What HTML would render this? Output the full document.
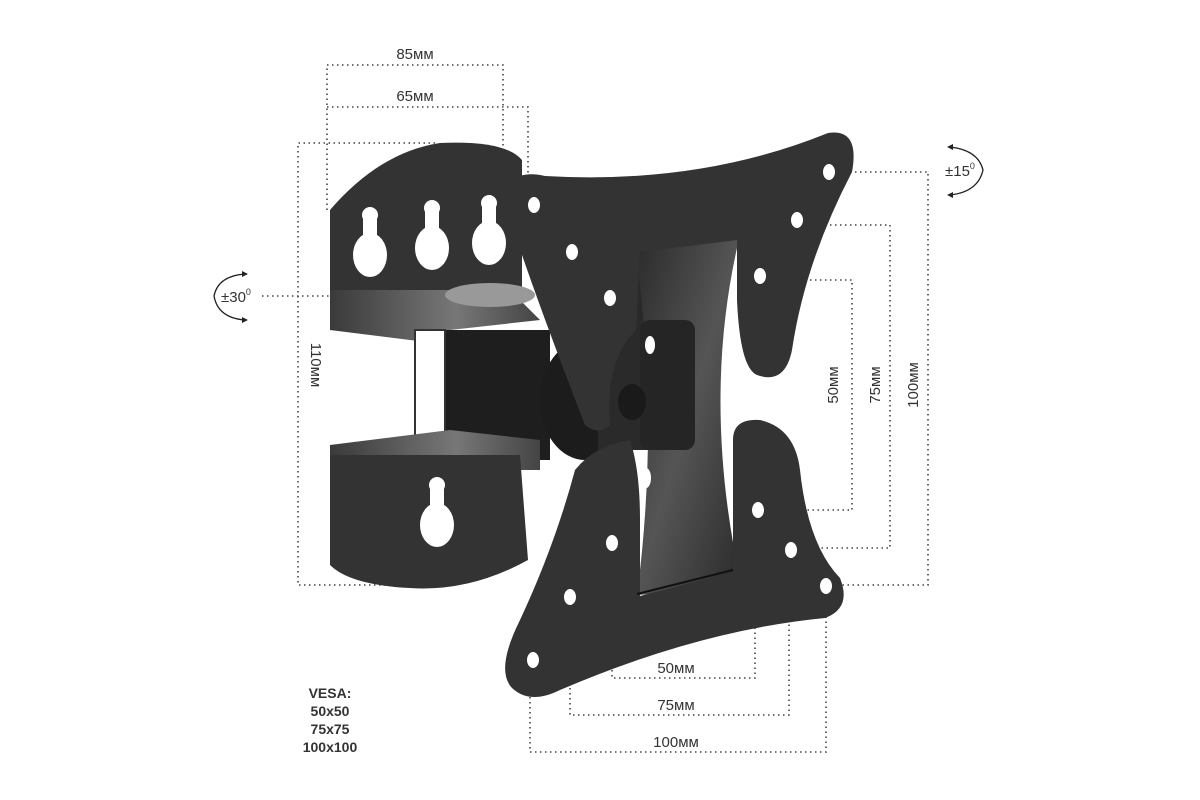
<!DOCTYPE html>
<html><head><meta charset="utf-8"><style>
html,body{margin:0;padding:0;background:#fff;}
svg{display:block;}
text{font-family:"Liberation Sans","DejaVu Sans",sans-serif;fill:#333;}
</style></head><body>
<svg width="1200" height="800" viewBox="0 0 1200 800" xmlns="http://www.w3.org/2000/svg">
<defs>
<linearGradient id="mid" x1="0" y1="0" x2="1" y2="1">
<stop offset="0" stop-color="#2a2a2a"/><stop offset="0.5" stop-color="#555"/><stop offset="1" stop-color="#2a2a2a"/></linearGradient>
<linearGradient id="flange" x1="0" y1="0" x2="1" y2="0">
<stop offset="0" stop-color="#3a3a3a"/><stop offset="0.6" stop-color="#777"/><stop offset="1" stop-color="#444"/></linearGradient>
</defs>
<g fill="none" stroke="#444" stroke-width="1.6" stroke-dasharray="1.5 3.5">
<path d="M327,210 V65 H503 V155"/>
<path d="M327,107 H528 V175"/>
<path d="M435,143 H298 V585 H420"/>
<path d="M262,296 H450"/>
<path d="M835,172 H928 V585 H830"/>
<path d="M800,225 H890 V548 H795"/>
<path d="M765,280 H852 V510 H760"/>
<path d="M612,545 V678 H755 V510"/>
<path d="M570,598 V715 H789 V550"/>
<path d="M530,662 V752 H826 V586"/>
</g>
<path d="M330,210 Q380,152 440,143 Q505,140 522,160 L522,300 L330,300 Z" fill="#333"/>
<path d="M330,290 L450,290 L520,300 L540,320 L450,330 L450,345 L330,330 Z" fill="url(#flange)"/>
<rect x="440" y="330" width="110" height="130" fill="#1e1e1e"/>
<rect x="415" y="330" width="30" height="130" fill="#fff" stroke="#333" stroke-width="2"/>
<path d="M330,445 L450,430 L540,440 L540,470 L450,470 L330,470 Z" fill="url(#flange)"/>
<path d="M330,455 L520,455 L528,560 Q470,592 410,588 Q350,585 330,565 Z" fill="#333"/>
<ellipse cx="490" cy="295" rx="45" ry="12" fill="#999"/>
<g fill="#fff">
<circle cx="370" cy="215" r="8"/><rect x="363" y="215" width="14" height="40"/><ellipse cx="370" cy="255" rx="17" ry="22"/>
<circle cx="432" cy="208" r="8"/><rect x="425" y="208" width="14" height="40"/><ellipse cx="432" cy="248" rx="17" ry="22"/>
<circle cx="489" cy="203" r="8"/><rect x="482" y="203" width="14" height="40"/><ellipse cx="489" cy="243" rx="17" ry="22"/>
<circle cx="437" cy="485" r="8"/><rect x="430" y="485" width="14" height="40"/><ellipse cx="437" cy="525" rx="17" ry="22"/>
</g>
<ellipse cx="585" cy="400" rx="45" ry="60" fill="#1c1c1c"/>
<rect x="598" y="245" width="65" height="205" fill="#2a2a2a"/>
<path d="M635,245 L740,235 Q700,400 742,588 L637,595 Q660,420 635,245 Z" fill="url(#mid)"/>
<rect x="640" y="320" width="55" height="130" rx="10" fill="#252525"/>
<ellipse cx="632" cy="402" rx="14" ry="18" fill="#1a1a1a"/>
<path d="M505,185 Q520,170 545,176 Q700,185 828,133 Q860,128 852,172 Q805,262 792,350 Q785,385 757,375 Q740,368 737,300 L737,240 L640,252 L636,330 Q605,360 610,425 Q598,436 585,425 Q548,330 522,255 Q500,210 505,185 Z" fill="#333"/>
<path d="M575,470 Q595,445 630,440 Q640,470 640,520 L640,596 L733,572 L733,440 Q733,418 760,420 Q795,428 800,470 Q808,545 840,578 Q852,608 825,618 Q700,630 560,690 Q530,705 512,688 Q495,670 520,620 Q555,545 575,470 Z" fill="#333"/>
<path d="M637,594 L733,570" stroke="#111" stroke-width="2"/>
<g fill="#fff">
<ellipse cx="534" cy="205" rx="6" ry="8"/>
<ellipse cx="572" cy="252" rx="6" ry="8"/>
<ellipse cx="610" cy="298" rx="6" ry="8"/>
<ellipse cx="829" cy="172" rx="6" ry="8"/>
<ellipse cx="797" cy="220" rx="6" ry="8"/>
<ellipse cx="760" cy="276" rx="6" ry="8"/>
<ellipse cx="758" cy="510" rx="6" ry="8"/>
<ellipse cx="791" cy="550" rx="6" ry="8"/>
<ellipse cx="826" cy="586" rx="6" ry="8"/>
<ellipse cx="612" cy="543" rx="6" ry="8"/>
<ellipse cx="570" cy="597" rx="6" ry="8"/>
<ellipse cx="533" cy="660" rx="6" ry="8"/>
<ellipse cx="646" cy="478" rx="5" ry="10"/>
<ellipse cx="650" cy="345" rx="5" ry="9"/>
</g>
<g font-size="15">
<text x="415" y="59" text-anchor="middle">85мм</text>
<text x="415" y="101" text-anchor="middle">65мм</text>
<text x="676" y="673" text-anchor="middle">50мм</text>
<text x="676" y="710" text-anchor="middle">75мм</text>
<text x="676" y="747" text-anchor="middle">100мм</text>
<text transform="translate(311,365) rotate(90)" text-anchor="middle">110мм</text>
<text transform="translate(838,385) rotate(-90)" text-anchor="middle">50мм</text>
<text transform="translate(880,385) rotate(-90)" text-anchor="middle">75мм</text>
<text transform="translate(918,385) rotate(-90)" text-anchor="middle">100мм</text>
<text x="221" y="302">±30<tspan font-size="9" dy="-7">0</tspan></text>
<text x="945" y="176">±15<tspan font-size="9" dy="-7">0</tspan></text>
</g>
<g font-size="14" font-weight="bold" text-anchor="middle">
<text x="330" y="698" fill="#444">VESA:</text>
<text x="330" y="716">50x50</text>
<text x="330" y="734">75x75</text>
<text x="330" y="752">100x100</text>
</g>
<g fill="none" stroke="#222" stroke-width="1.3">
<path d="M245,274 Q218,276 214,296 Q218,318 245,320"/>
<path d="M950,147 Q978,150 983,170 Q978,192 950,195"/>
</g>
<g fill="#222">
<path d="M248,274 l-6,-3 l0,6 Z"/><path d="M248,320 l-6,-3 l0,6 Z"/>
<path d="M947,147 l6,-3 l0,6 Z"/><path d="M947,195 l6,-3 l0,6 Z"/>
</g>
</svg>
</body></html>
